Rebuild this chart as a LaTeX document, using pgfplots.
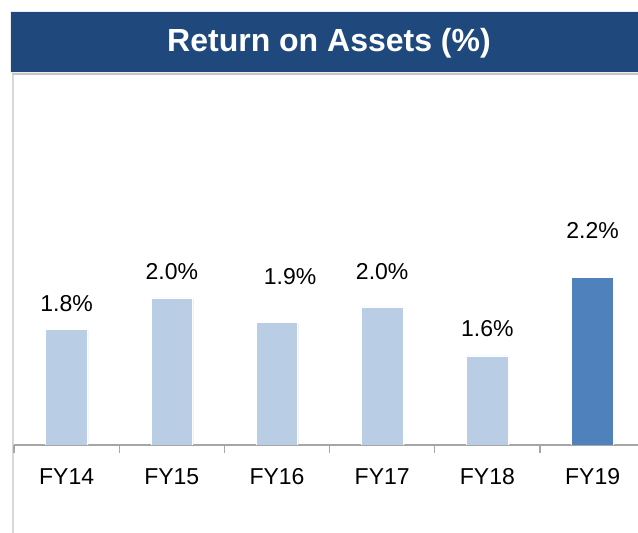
\documentclass[border=0pt]{standalone}
\usepackage{pgfplots}
\pgfplotsset{compat=1.18}
\usepackage{fontspec}
\setmainfont{Liberation Sans}
\usetikzlibrary{shadows}
\definecolor{banner}{HTML}{1F497D}
\definecolor{lightbar}{HTML}{B9CDE5}
\definecolor{darkbar}{HTML}{4F81BD}
\definecolor{axgray}{HTML}{A6A6A6}
\definecolor{framegray}{HTML}{D9D9D9}
\begin{document}
\begin{tikzpicture}[x=1pt,y=1pt]
\useasboundingbox (0,0) rectangle (638,533);
\clip (0,0) rectangle (638,533);
% left frame line
\draw[framegray, line width=1.5pt] (13,0) -- (13,462);
% banner
\fill[gray!45] (12,458) rectangle (645,520);
\fill[banner] (10,461) rectangle (645,522);
\draw[white!85!gray, line width=0.8pt] (10,461) rectangle (645,522);
\node[text=white, font=\fontsize{32}{38}\selectfont\bfseries] at (329,490) {Return on Assets (\%)};
\begin{axis}[
  at={(14pt,88pt)}, anchor=south west,
  scale only axis, width=631.2pt, height=260pt,
  xmin=-0.5, xmax=5.5, ymin=0.91, ymax=2.91,
  axis x line*=bottom, axis y line=none,
  axis line style={axgray, line width=1.2pt},
  xtick={0,1,2,3,4,5},
  xticklabels={FY14,FY15,FY16,FY17,FY18,FY19},
  major tick length=0pt,
  minor xtick={-0.5,0.5,1.5,2.5,3.5,4.5,5.5},
  minor tick length=8pt,
  tick align=outside,
  minor tick style={axgray, line width=1.2pt},
  xticklabel style={font=\fontsize{23}{27}\selectfont, yshift=-20pt},
  clip=true,
]
\addplot[ybar, bar width=41.5pt, bar shift=0pt, fill=lightbar, draw=white, line width=0.8pt,
  drop shadow={shadow xshift=1pt, shadow yshift=-1pt, opacity=0.25}]
  coordinates {(0,1.802) (1,2.041) (2,1.856) (3,1.972) (4,1.595)};
\addplot[ybar, bar width=41.5pt, bar shift=0pt, fill=darkbar, draw=white, line width=0.8pt,
  drop shadow={shadow xshift=1pt, shadow yshift=-1pt, opacity=0.25}]
  coordinates {(5,2.202)};
\end{axis}
\begin{axis}[
  at={(14pt,88pt)}, anchor=south west,
  scale only axis, width=631.2pt, height=260pt,
  xmin=-0.5, xmax=5.5, ymin=0.91, ymax=2.91,
  hide axis, clip=false,
]
\node[font=\fontsize{23}{27}\selectfont] at (axis cs:0,1.999) {1.8\%};
\node[font=\fontsize{23}{27}\selectfont] at (axis cs:1,2.241) {2.0\%};
\node[font=\fontsize{23}{27}\selectfont] at (axis cs:2.124,2.202) {1.9\%};
\node[font=\fontsize{23}{27}\selectfont] at (axis cs:3,2.241) {2.0\%};
\node[font=\fontsize{23}{27}\selectfont] at (axis cs:4,1.802) {1.6\%};
\node[font=\fontsize{23}{27}\selectfont] at (axis cs:5,2.556) {2.2\%};
\end{axis}
\end{tikzpicture}
\end{document}
